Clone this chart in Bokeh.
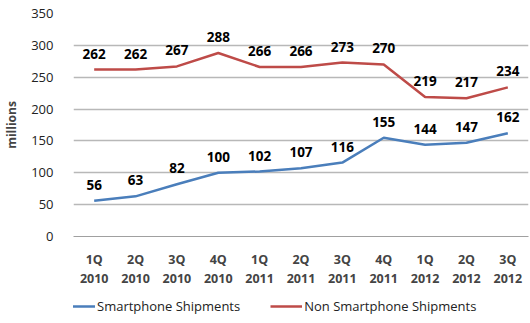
from bokeh.plotting import figure
from bokeh.layouts import column
from bokeh.models import ColumnDataSource, Range1d, FactorRange, Legend, LegendItem, FixedTicker
from bokeh.core.properties import value
from bokeh.embed import file_html
from bokeh.resources import INLINE

quarters = ["1Q\n2010", "2Q\n2010", "3Q\n2010", "4Q\n2010", "1Q\n2011", "2Q\n2011",
            "3Q\n2011", "4Q\n2011", "1Q\n2012", "2Q\n2012", "3Q\n2012"]
smartphone = [56, 63, 82, 100, 102, 107, 116, 155, 144, 147, 162]
non_smartphone = [262, 262, 267, 288, 266, 266, 273, 270, 219, 217, 234]
y_ticks = [0, 50, 100, 150, 200, 250, 300, 350]
series_names = ["Smartphone Shipments", "Non Smartphone Shipments"]

FONT = "Open Sans"
BLUE = "#4a7ebb"
RED = "#be4b48"

src = ColumnDataSource(dict(
    x=quarters, s=smartphone, n=non_smartphone,
    sl=[str(v) for v in smartphone], nl=[str(v) for v in non_smartphone]))

p = figure(width=530, height=290, x_range=FactorRange(*quarters, range_padding=0),
           y_range=Range1d(0, 350), output_backend="svg", toolbar_location=None,
           min_border_left=63, min_border_right=2, min_border_top=13, min_border_bottom=53)

p.outline_line_color = None
p.background_fill_color = "white"
p.border_fill_color = "white"

p.line("x", "s", source=src, line_color=BLUE, line_width=2.5)
p.line("x", "n", source=src, line_color=RED, line_width=2.5)

for col, lab in (("s", "sl"), ("n", "nl")):
    p.text("x", col, text=lab, source=src, text_font=value(FONT), text_font_size="13.5px",
           text_font_style="bold", text_align="center", text_baseline="bottom", y_offset=-11,
           text_color="black")

p.yaxis.ticker = FixedTicker(ticks=y_ticks)
p.yaxis.axis_line_color = None
p.yaxis.major_tick_line_color = None
p.yaxis.minor_tick_line_color = None
p.yaxis.major_label_text_font = FONT
p.yaxis.major_label_text_font_size = "13px"
p.yaxis.major_label_text_color = "#222222"
p.yaxis.major_label_standoff = 14
p.yaxis.axis_label = "millions"
p.yaxis.axis_label_text_font = FONT
p.yaxis.axis_label_text_font_size = "12px"
p.yaxis.axis_label_text_font_style = "bold"
p.yaxis.axis_label_standoff = 8

p.xaxis.axis_line_color = "#a0a0a0"
p.xaxis.major_tick_line_color = None
p.xaxis.minor_tick_line_color = None
p.xaxis.major_label_text_font = FONT
p.xaxis.major_label_text_font_size = "12.5px"
p.xaxis.major_label_text_font_style = "bold"
p.xaxis.major_label_text_line_height = 1.15
p.xaxis.major_label_standoff = 8

p.xgrid.grid_line_color = None
p.ygrid.grid_line_color = "#b8b8b8"
p.ygrid.grid_line_width = 1.5

# legend strip below the chart
p2 = figure(width=530, height=33, x_range=Range1d(0, 1), y_range=Range1d(0, 1),
            output_backend="svg", toolbar_location=None,
            x_axis_location=None, y_axis_location=None,
            min_border_left=0, min_border_right=0, min_border_top=0, min_border_bottom=0)
p2.grid.visible = False
p2.outline_line_color = None
p2.background_fill_color = "white"
p2.border_fill_color = "white"
l1 = p2.line(x=[-10, -9], y=[-10, -9], line_color=BLUE, line_width=2.5)
l2 = p2.line(x=[-10, -9], y=[-10, -9], line_color=RED, line_width=2.5)
legend = Legend(items=[LegendItem(label=series_names[0], renderers=[l1]),
                       LegendItem(label=series_names[1], renderers=[l2])],
                orientation="horizontal", label_text_font=FONT, label_text_font_size="13px",
                label_text_color="#222222", glyph_width=32, glyph_height=14,
                spacing=30, padding=0, margin=0, border_line_color=None,
                background_fill_alpha=0, label_standoff=2, location=(-10, 8))
p2.add_layout(legend, "center")

open("out.html", "w").write(file_html(column(p, p2, spacing=0), INLINE))
